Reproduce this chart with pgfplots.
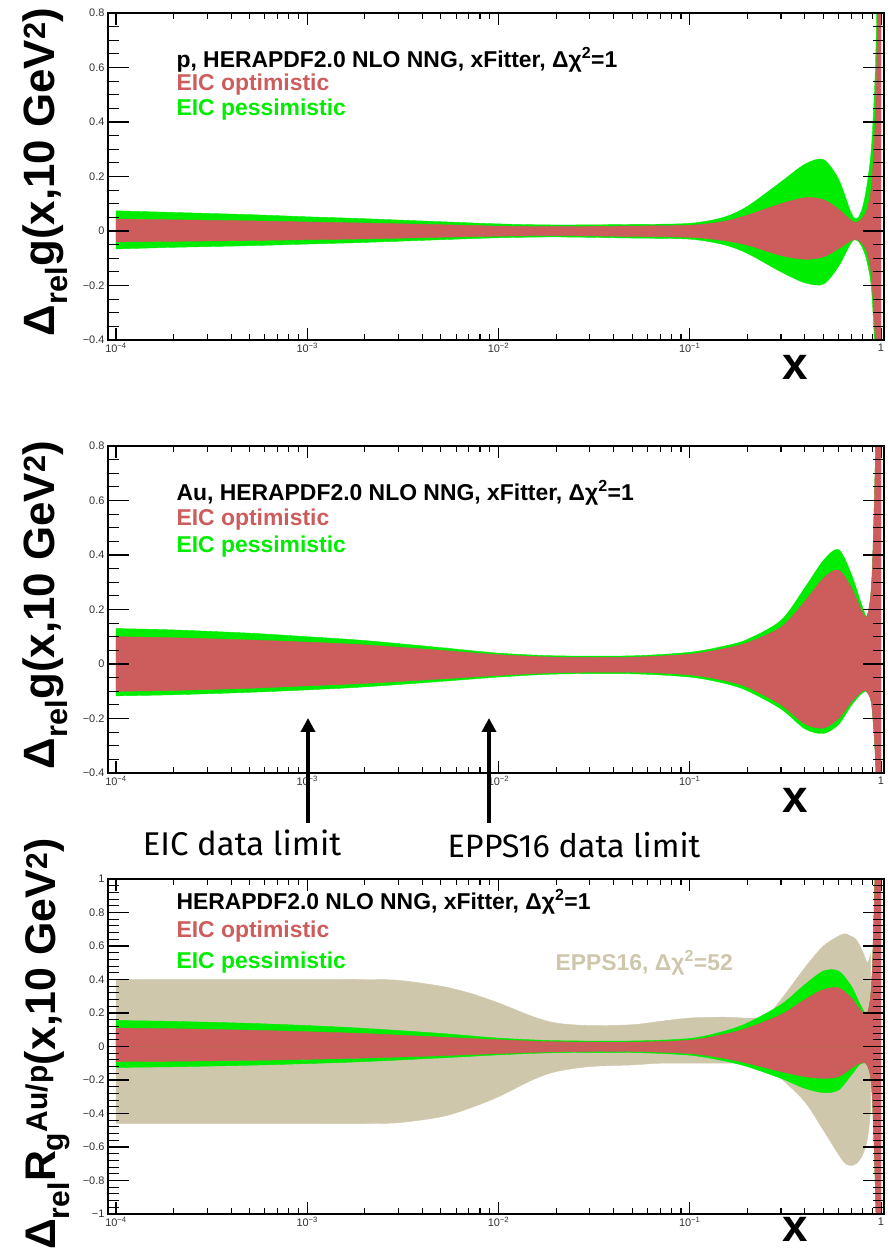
\documentclass[border=0pt]{standalone}
\usepackage{fontspec}
\setmainfont{Liberation Sans}
\newfontfamily\fira{Fira Sans}
\usepackage{pgfplots}
\pgfplotsset{compat=1.18}
\usepackage{pgfplotstable}
\usetikzlibrary{arrows.meta}

\definecolor{optred}{RGB}{205,92,92}
\definecolor{pessgreen}{RGB}{0,236,0}
\definecolor{eppsbeige}{RGB}{206,199,172}

% x  green-up  red-up  red-low  green-low
\pgfplotstableread{
x      gu     ru     rl      gl
1e-4   0.074  0.044  -0.040  -0.066
2e-4   0.068  0.041  -0.038  -0.060
5e-4   0.060  0.037  -0.035  -0.054
1e-3   0.052  0.033  -0.032  -0.048
2e-3   0.045  0.029  -0.029  -0.042
5e-3   0.034  0.023  -0.023  -0.032
1e-2   0.026  0.018  -0.019  -0.025
2e-2   0.022  0.016  -0.017  -0.022
5e-2   0.024  0.018  -0.020  -0.026
1e-1   0.028  0.021  -0.023  -0.030
1.5e-1 0.050  0.035  -0.035  -0.050
2e-1   0.090  0.058  -0.052  -0.082
3e-1   0.180  0.100  -0.090  -0.150
4e-1   0.245  0.122  -0.104  -0.190
5e-1   0.262  0.115  -0.095  -0.195
6e-1   0.190  0.080  -0.065  -0.130
7e-1   0.065  0.038  -0.035  -0.042
7.5e-1 0.045  0.032  -0.032  -0.035
8e-1   0.085  0.048  -0.048  -0.062
8.5e-1 0.180  0.085  -0.085  -0.120
9e-1   0.350  0.200  -0.200  -0.250
9.5e-1 0.800  0.600  -0.600  -0.700
9.8e-1 2.000  1.800  -1.800  -2.000
1.0    3.000  3.000  -3.000  -3.000
}\pone

\pgfplotstableread{
x      gu     ru     rl      gl
1e-4   0.130  0.100  -0.100  -0.117
2e-4   0.125  0.096  -0.097  -0.113
5e-4   0.113  0.088  -0.089  -0.104
1e-3   0.100  0.080  -0.080  -0.095
2e-3   0.086  0.070  -0.071  -0.084
5e-3   0.060  0.050  -0.055  -0.064
1e-2   0.040  0.034  -0.042  -0.048
2e-2   0.030  0.025  -0.032  -0.037
5e-2   0.030  0.025  -0.030  -0.036
1e-1   0.043  0.036  -0.040  -0.048
1.5e-1 0.065  0.056  -0.060  -0.070
2e-1   0.090  0.078  -0.085  -0.098
3e-1   0.160  0.135  -0.150  -0.165
4e-1   0.280  0.230  -0.220  -0.238
5e-1   0.380  0.315  -0.235  -0.255
6e-1   0.420  0.345  -0.200  -0.222
7e-1   0.330  0.280  -0.140  -0.152
8e-1   0.210  0.190  -0.100  -0.106
8.5e-1 0.180  0.180  -0.105  -0.105
9e-1   0.340  0.340  -0.170  -0.170
9.5e-1 1.000  1.000  -0.500  -0.500
9.8e-1 2.000  2.000  -1.500  -1.500
1.0    3.000  3.000  -3.000  -3.000
}\ptwo

\pgfplotstableread{
x      gu     ru     rl      gl
1e-4   0.155  0.110  -0.090  -0.125
2e-4   0.150  0.106  -0.088  -0.121
5e-4   0.138  0.097  -0.083  -0.112
1e-3   0.125  0.088  -0.077  -0.102
2e-3   0.108  0.077  -0.069  -0.090
5e-3   0.078  0.056  -0.055  -0.068
1e-2   0.050  0.040  -0.042  -0.050
2e-2   0.035  0.028  -0.032  -0.037
5e-2   0.033  0.026  -0.030  -0.036
1e-1   0.048  0.038  -0.042  -0.052
1.5e-1 0.090  0.072  -0.070  -0.085
2e-1   0.140  0.110  -0.100  -0.120
3e-1   0.250  0.190  -0.150  -0.190
4e-1   0.370  0.280  -0.180  -0.250
5e-1   0.450  0.340  -0.190  -0.275
6e-1   0.450  0.350  -0.180  -0.260
7e-1   0.360  0.290  -0.130  -0.170
7.8e-1 0.250  0.220  -0.100  -0.105
8.5e-1 0.200  0.200  -0.115  -0.115
9e-1   0.450  0.450  -0.300  -0.300
9.5e-1 1.500  1.500  -1.200  -1.200
1.0    3.000  3.000  -3.000  -3.000
}\pthree

\pgfplotstableread{
x      eu     el
1e-4   0.400  -0.460
1e-3   0.400  -0.460
2e-3   0.400  -0.460
3e-3   0.395  -0.455
5e-3   0.360  -0.420
7e-3   0.320  -0.370
1e-2   0.260  -0.300
1.5e-2 0.180  -0.200
2e-2   0.140  -0.150
3e-2   0.125  -0.120
5e-2   0.130  -0.110
7e-2   0.150  -0.100
1e-1   0.170  -0.100
1.5e-1 0.175  -0.100
2e-1   0.170  -0.100
2.5e-1 0.180  -0.120
3e-1   0.280  -0.190
4e-1   0.470  -0.330
5e-1   0.600  -0.500
6.3e-1 0.670  -0.680
6.9e-1 0.660  -0.710
7.4e-1 0.640  -0.700
8e-1   0.570  -0.650
8.5e-1 0.500  -0.550
8.8e-1 0.550  -0.400
}\epps

\pgfplotsset{
  every axis/.append style={
    scale only axis, width=776bp,
    axis line style={line width=1.4bp},
    tick style={line width=1.1bp, black},
    tick align=inside,
    major tick length=12bp, minor tick length=6bp,
    tick label style={font=\fontsize{11}{11}\selectfont, text=black!80},
    ylabel style={anchor=center, font=\fontsize{44}{44}\selectfont\bfseries},
  },
  mainax/.style={
    xmin=9.08e-5, xmax=1.037,
    xtick={1e-4,1e-3,1e-2,1e-1,1},
    xticklabels={10\textsuperscript{−4},10\textsuperscript{−3},10\textsuperscript{−2},10\textsuperscript{−1},1},
    minor xtick={2e-4,3e-4,4e-4,5e-4,6e-4,7e-4,8e-4,9e-4,2e-3,3e-3,4e-3,5e-3,6e-3,7e-3,8e-3,9e-3,2e-2,3e-2,4e-2,5e-2,6e-2,7e-2,8e-2,9e-2,0.2,0.3,0.4,0.5,0.6,0.7,0.8,0.9},
    xlabel={x},
    xlabel style={anchor=center, inner sep=0pt, font=\fontsize{46}{46}\selectfont\bfseries},
  },
}

% overlay that draws the longer y ticks (no data in it)
\newcommand{\yoverlay}[6]{%
\begin{axis}[at={(108bp,#1)}, anchor=south west, height=#2,
  xmin=0, xmax=1, ymin=#3, ymax=#4, hide x axis,
  ytick={#5}, yticklabels={}, minor y tick num=#6,
  major tick length=21bp, minor tick length=11bp]
\end{axis}}

\newcommand{\bands}[1]{%
  \addplot[fill=pessgreen, draw=pessgreen, line width=0.4bp, smooth, tension=0.5] table[x=x,y=gu]{#1} \closedcycle;
  \addplot[fill=pessgreen, draw=pessgreen, line width=0.4bp, smooth, tension=0.5] table[x=x,y=gl]{#1} \closedcycle;
  \addplot[fill=optred, draw=optred, line width=0.4bp, smooth, tension=0.5] table[x=x,y=ru]{#1} \closedcycle;
  \addplot[fill=optred, draw=optred, line width=0.4bp, smooth, tension=0.5] table[x=x,y=rl]{#1} \closedcycle;
}

\begin{document}
\begin{tikzpicture}
\path[use as bounding box] (0,0) rectangle (888bp,1251bp);

% ---------- panel 1 ----------
\begin{semilogxaxis}[mainax, at={(108bp,911bp)}, anchor=south west, height=327bp,
  ymin=-0.4, ymax=0.8, ytick={-0.4,-0.2,0,0.2,0.4,0.6,0.8},
  yticklabels={−0.4,−0.2,0,0.2,0.4,0.6,0.8}, minor y tick num=3,
  xlabel style={at={(axis description cs:0.885,-0.085)}},
  ylabel={Δ\textsubscript{rel}g(x,10 GeV\textsuperscript{2})},
  ylabel style={at={(axis description cs:-0.081,0.514)}}]
\bands{\pone}
\end{semilogxaxis}
\yoverlay{911bp}{327bp}{-0.4}{0.8}{-0.4,-0.2,0,0.2,0.4,0.6,0.8}{3}
\node[anchor=west, font=\fontsize{23}{23}\selectfont\bfseries] at (173bp,1191bp) {p, HERAPDF2.0 NLO NNG, xFitter, Δχ\textsuperscript{2}=1};
\node[anchor=west, font=\fontsize{23}{23}\selectfont\bfseries, text=optred] at (173bp,1166bp) {EIC optimistic};
\node[anchor=west, font=\fontsize{23}{23}\selectfont\bfseries, text=pessgreen] at (173bp,1141bp) {EIC pessimistic};

% ---------- panel 2 ----------
\begin{semilogxaxis}[mainax, at={(108bp,478bp)}, anchor=south west, height=327bp,
  ymin=-0.4, ymax=0.8, ytick={-0.4,-0.2,0,0.2,0.4,0.6,0.8},
  yticklabels={−0.4,−0.2,0,0.2,0.4,0.6,0.8}, minor y tick num=3,
  xlabel style={at={(axis description cs:0.885,-0.085)}},
  ylabel={Δ\textsubscript{rel}g(x,10 GeV\textsuperscript{2})},
  ylabel style={at={(axis description cs:-0.081,0.514)}}]
\bands{\ptwo}
\end{semilogxaxis}
\yoverlay{478bp}{327bp}{-0.4}{0.8}{-0.4,-0.2,0,0.2,0.4,0.6,0.8}{3}
\node[anchor=west, font=\fontsize{23}{23}\selectfont\bfseries] at (173bp,758bp) {Au, HERAPDF2.0 NLO NNG, xFitter, Δχ\textsuperscript{2}=1};
\node[anchor=west, font=\fontsize{23}{23}\selectfont\bfseries, text=optred] at (173bp,731bp) {EIC optimistic};
\node[anchor=west, font=\fontsize{23}{23}\selectfont\bfseries, text=pessgreen] at (173bp,704bp) {EIC pessimistic};

\draw[line width=4.5bp, -{Triangle[width=14bp,length=14bp]}] (308bp,428bp) -- (308bp,533bp);
\draw[line width=4.5bp, -{Triangle[width=14bp,length=14bp]}] (489bp,428bp) -- (489bp,533bp);
\node[anchor=center, font=\fira\fontsize{33}{33}\selectfont] at (242bp,408bp) {EIC data limit};
\node[anchor=center, font=\fira\fontsize{32.5}{33}\selectfont] at (574bp,406bp) {EPPS16 data limit};

% ---------- panel 3 ----------
\begin{semilogxaxis}[mainax, at={(108bp,37bp)}, anchor=south west, height=335bp,
  ymin=-1, ymax=1, ytick={-1,-0.8,-0.6,-0.4,-0.2,0,0.2,0.4,0.6,0.8,1},
  yticklabels={−1,−0.8,−0.6,−0.4,−0.2,0,0.2,0.4,0.6,0.8,1}, minor y tick num=4,
  xlabel style={at={(axis description cs:0.885,-0.047)}},
  ylabel={Δ\textsubscript{rel}R\textsubscript{g}\textsuperscript{Au/p}(x,10 GeV\textsuperscript{2})},
  ylabel style={at={(axis description cs:-0.078,0.507)}, font=\fontsize{43}{43}\selectfont\bfseries}]
\addplot[fill=eppsbeige, draw=eppsbeige, line width=0.4bp, smooth, tension=0.5] table[x=x,y=eu]{\epps} \closedcycle;
\addplot[fill=eppsbeige, draw=eppsbeige, line width=0.4bp, smooth, tension=0.5] table[x=x,y=el]{\epps} \closedcycle;
\bands{\pthree}
\end{semilogxaxis}
\yoverlay{37bp}{335bp}{-1}{1}{-1,-0.8,-0.6,-0.4,-0.2,0,0.2,0.4,0.6,0.8,1}{4}
\node[anchor=west, font=\fontsize{23}{23}\selectfont\bfseries] at (173bp,349bp) {HERAPDF2.0 NLO NNG, xFitter, Δχ\textsuperscript{2}=1};
\node[anchor=west, font=\fontsize{23}{23}\selectfont\bfseries, text=optred] at (173bp,319bp) {EIC optimistic};
\node[anchor=west, font=\fontsize{23}{23}\selectfont\bfseries, text=pessgreen] at (173bp,288bp) {EIC pessimistic};
\node[anchor=west, font=\fontsize{23}{23}\selectfont\bfseries, text=eppsbeige] at (552bp,288bp) {EPPS16, Δχ\textsuperscript{2}=52};
\end{tikzpicture}
\end{document}
